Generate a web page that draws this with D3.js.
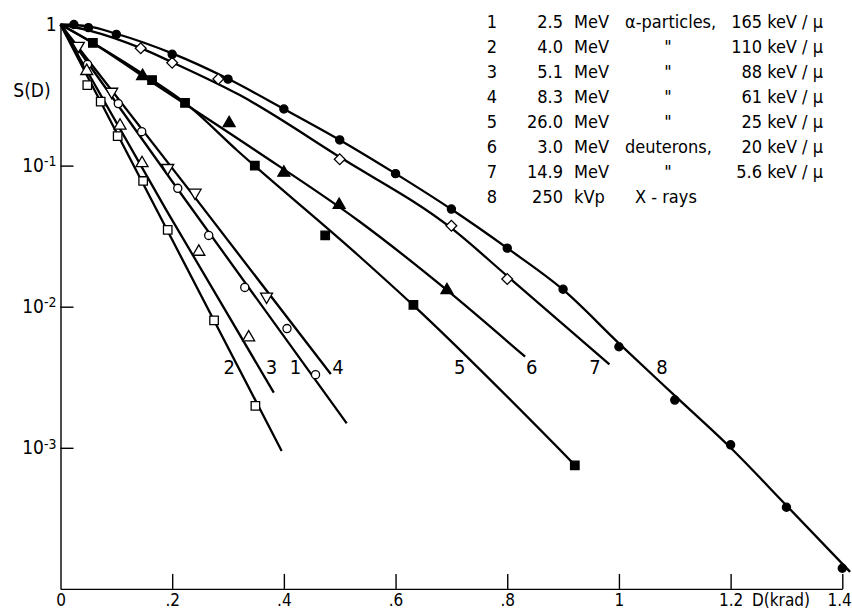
<!DOCTYPE html>
<html>
<head>
<meta charset="utf-8">
<script src="https://cdn.jsdelivr.net/npm/d3@7"></script>
<style>
  body { margin: 0; background: #fff; }
  svg { display: block; }
  text { font-family: 'Liberation Sans Narrow', 'DejaVu Sans Condensed', 'Arial Narrow', sans-serif; fill: #000; }
  .axis path, .axis line { stroke: #000; stroke-width: 1.4; }
  .fit { fill: none; stroke: #000; stroke-width: 2.3; }
</style>
</head>
<body>
<svg width="852" height="611"></svg>
<script>
// Axis ticks
var xTicks = [0, 0.2, 0.4, 0.6, 0.8, 1, 1.2, 1.4];
var xTickLabels = ['0', '.2', '.4', '.6', '.8', '1', '1.2', '1.4'];
var yTicks = [1, 1e-1, 1e-2, 1e-3];

// Legend table
var legendNum = ['1', '2', '3', '4', '5', '6', '7', '8'];
var legendEnergy = ['2.5', '4.0', '5.1', '8.3', '26.0', '3.0', '14.9', '250'];
var legendUnit = ['MeV', 'MeV', 'MeV', 'MeV', 'MeV', 'MeV', 'MeV', 'kVp'];
var legendKind = ['\u03b1-particles,', '"', '"', '"', '"', 'deuterons,', '"', 'X - rays'];
var legendLET = ['165 keV / \u03bc', '110 keV / \u03bc', '88 keV / \u03bc', '61 keV / \u03bc',
  '25 keV / \u03bc', '20 keV / \u03bc', '5.6 keV / \u03bc', ''];

// Fitted curves [dose krad, surviving fraction]
var fit1 = [[0, 1], [0.21, 0.068], [0.5125, 0.00149]];
var fit2 = [[0, 1], [0.2, 0.0298], [0.396, 0.00095]];
var fit3 = [[0, 1], [0.19, 0.048], [0.382, 0.00246]];
var fit4 = [[0, 1], [0.24, 0.06], [0.484, 0.00333]];
var fit5 = [[0, 1], [0.058, 0.74], [0.164, 0.404], [0.223, 0.278], [0.3155, 0.129],
  [0.536, 0.0226], [0.631, 0.0103], [0.921, 0.000755]];
var fit6 = [[0, 1], [0.058, 0.74], [0.147, 0.431], [0.348, 0.129], [0.536, 0.040],
  [0.692, 0.0131], [0.832, 0.00442]];
var fit7 = [[0, 1], [0.05, 0.91], [0.144, 0.68], [0.2, 0.54], [0.321, 0.316], [0.5, 0.115],
  [0.7, 0.036], [0.8, 0.0165], [0.983, 0.0039]];
var fit8 = [[0, 1], [0.05, 0.97], [0.1, 0.86], [0.2, 0.624], [0.3, 0.412], [0.4, 0.252],
  [0.5, 0.152], [0.6, 0.0877], [0.7, 0.049], [0.8, 0.026], [0.9, 0.0132], [1.0, 0.0055],
  [1.1, 0.00234], [1.2, 0.001], [1.3, 0.00039], [1.414, 0.000132]];

// Measured points
var pts1 = [[0.0484, 0.522], [0.1035, 0.275], [0.1454, 0.174], [0.21, 0.069], [0.2654, 0.032],
  [0.33, 0.0137], [0.4056, 0.0070], [0.4567, 0.0033]];
var pts2 = [[0.048, 0.372], [0.072, 0.284], [0.1024, 0.162], [0.148, 0.0778], [0.192, 0.035],
  [0.275, 0.0080], [0.349, 0.00198]];
var pts3 = [[0.047, 0.468], [0.1066, 0.192], [0.146, 0.104], [0.2477, 0.0245], [0.337, 0.00605]];
var pts4 = [[0.0319, 0.707], [0.0917, 0.334], [0.192, 0.0962], [0.241, 0.0643], [0.369, 0.0118]];
var pts5 = [[0.058, 0.74], [0.164, 0.404], [0.223, 0.278], [0.348, 0.1], [0.474, 0.032],
  [0.632, 0.0103], [0.921, 0.00075]];
var pts6 = [[0.147, 0.431], [0.302, 0.2], [0.40, 0.089], [0.499, 0.0526], [0.692, 0.0131]];
var pts7 = [[0.1436, 0.678], [0.2, 0.536], [0.2826, 0.411], [0.5, 0.111], [0.7, 0.0375],
  [0.8, 0.0157]];
var pts8 = [[0.024, 1.0], [0.05, 0.95], [0.1, 0.85], [0.2, 0.615], [0.3, 0.41], [0.4, 0.252],
  [0.5, 0.152], [0.6, 0.0877], [0.7, 0.0492], [0.8, 0.026], [0.9, 0.0133], [1.0, 0.0052],
  [1.1, 0.00218], [1.2, 0.00105], [1.3, 0.000379], [1.4, 0.00014]];

// Curve number labels
var labelNames = ['2', '3', '1', '4', '5', '6', '7', '8'];
var labelDose = [0.302, 0.378, 0.421, 0.497, 0.715, 0.844, 0.957, 1.077];
var labelLevel = 0.00374;

var curves = [
  {fit: fit1, pts: pts1, sym: 'circle', filled: false},
  {fit: fit2, pts: pts2, sym: 'square', filled: false},
  {fit: fit3, pts: pts3, sym: 'triangle', filled: false},
  {fit: fit4, pts: pts4, sym: 'triangleDown', filled: false},
  {fit: fit5, pts: pts5, sym: 'square', filled: true},
  {fit: fit6, pts: pts6, sym: 'triangle', filled: true},
  {fit: fit7, pts: pts7, sym: 'diamond', filled: false},
  {fit: fit8, pts: pts8, sym: 'circle', filled: true}
];

var svg = d3.select('svg');

var x = d3.scaleLinear().domain([0, 1.4]).range([60.5, 842.3]);
var y = d3.scaleLog().domain([1e-4, 1]).range([588.9, 24.5]);

// x axis, ticks pointing up
var xAxis = d3.axisBottom(x)
  .tickValues(xTicks)
  .tickSizeInner(-15).tickSizeOuter(0)
  .tickPadding(5)
  .tickFormat(function(d, i) { return xTickLabels[i]; });
var gx = svg.append('g').attr('class', 'axis')
  .attr('transform', 'translate(0,' + y(1e-4) + ')')
  .call(xAxis);
gx.selectAll('text').attr('font-size', 17);
gx.selectAll('.tick').filter(function(d) { return d === 0; }).select('line').remove();
// last label would run off the right edge
gx.selectAll('.tick').filter(function(d) { return d === 1.4; }).select('text')
  .attr('text-anchor', 'end').attr('dx', 9);

svg.append('text')
  .attr('x', 781).attr('y', y(1e-4) + 5)
  .attr('dy', '0.71em')
  .attr('text-anchor', 'middle')
  .attr('font-size', 17)
  .text('D(krad)');

// y axis, ticks pointing right
var yAxis = d3.axisLeft(y)
  .tickValues(yTicks)
  .tickSizeInner(-13).tickSizeOuter(0)
  .tickPadding(4)
  .tickFormat('');
var gy = svg.append('g').attr('class', 'axis')
  .attr('transform', 'translate(' + x(0) + ',0)')
  .call(yAxis);
gy.selectAll('.tick text').each(function(d) {
  var t = d3.select(this).attr('font-size', 19);
  if (d === 1) {
    t.text('1');
  } else {
    t.append('tspan').text('10');
    t.append('tspan').attr('dy', '-0.42em').attr('font-size', 14)
      .text('-' + Math.round(-Math.log10(d)));
  }
});
gy.selectAll('.tick').filter(function(d) { return d === 1; }).select('line').remove();

svg.append('text')
  .attr('x', 32).attr('y', 90).attr('dy', '0.35em')
  .attr('text-anchor', 'middle')
  .attr('font-size', 19)
  .text('S(D)');

// fitted curves
var line = d3.line()
  .x(function(d) { return x(d[0]); })
  .y(function(d) { return y(d[1]); })
  .curve(d3.curveMonotoneX);

svg.append('g').selectAll('path')
  .data(curves)
  .enter().append('path')
  .attr('class', 'fit')
  .attr('d', function(c) { return line(c.fit); });

// markers
var symbols = {
  circle: {type: d3.symbolCircle, size: 52, rot: 0},
  square: {type: d3.symbolSquare, size: 72, rot: 0},
  triangle: {type: d3.symbolTriangle, size: 62, rot: 0},
  triangleDown: {type: d3.symbolTriangle, size: 62, rot: 180},
  diamond: {type: d3.symbolSquare, size: 58, rot: 45}
};

curves.forEach(function(c) {
  var s = symbols[c.sym];
  svg.append('g').selectAll('path')
    .data(c.pts)
    .enter().append('path')
    .attr('d', d3.symbol().type(s.type).size(s.size))
    .attr('transform', function(d) {
      return 'translate(' + x(d[0]) + ',' + y(d[1]) + ') rotate(' + s.rot + ')';
    })
    .attr('fill', c.filled ? '#000' : '#fff')
    .attr('stroke', '#000')
    .attr('stroke-width', 1.3);
});

// curve numbers
svg.append('g').selectAll('text')
  .data(labelNames)
  .enter().append('text')
  .attr('x', function(d, i) { return x(labelDose[i]); })
  .attr('y', y(labelLevel))
  .attr('dy', '0.35em')
  .attr('text-anchor', 'middle')
  .attr('font-size', 20)
  .text(function(d) { return d; });

// legend table
var legendG = svg.append('g').attr('font-size', 18);
legendNum.forEach(function(n, i) {
  var yy = 28 + i * 25;
  legendG.append('text').attr('x', 492).attr('y', yy).attr('text-anchor', 'middle').text(n);
  legendG.append('text').attr('x', 563).attr('y', yy).attr('text-anchor', 'end').text(legendEnergy[i]);
  legendG.append('text').attr('x', 574).attr('y', yy).text(legendUnit[i]);
  var k = legendKind[i];
  if (k === '"') {
    legendG.append('text').attr('x', 668).attr('y', yy).attr('text-anchor', 'middle').text(k);
  } else {
    legendG.append('text').attr('x', k === 'X - rays' ? 635 : 625).attr('y', yy).text(k);
  }
  legendG.append('text').attr('x', 823).attr('y', yy).attr('text-anchor', 'end').text(legendLET[i]);
});
</script>
</body>
</html>
